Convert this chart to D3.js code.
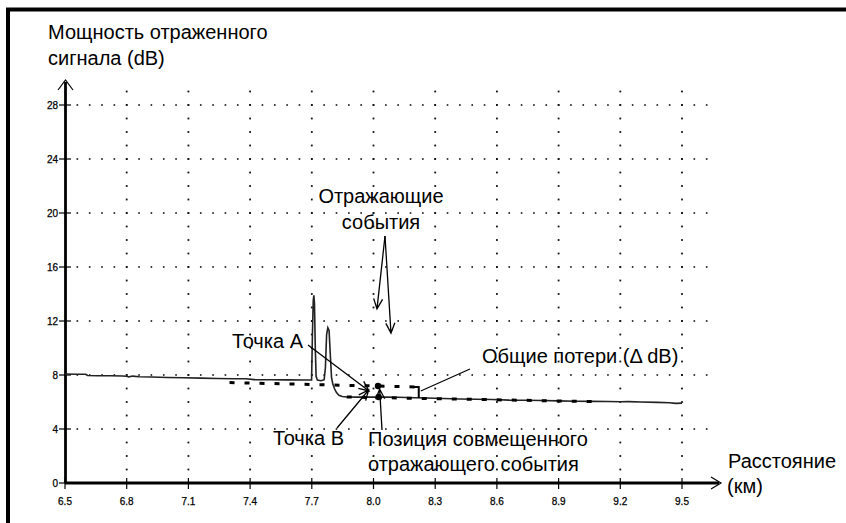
<!DOCTYPE html>
<html>
<head>
<meta charset="utf-8">
<script src="https://cdn.jsdelivr.net/npm/d3@7"></script>
<style>
  html, body { margin: 0; padding: 0; background: #fff; }
  svg { display: block; }
  text { font-family: "Liberation Sans", Arial, sans-serif; fill: #000; }
  .tick-label { stroke: #000; stroke-width: 0.25px; }
</style>
</head>
<body>
<svg id="chart" width="846" height="523"></svg>
<script>
// OTDR trace: distance (km) and reflected power (dB)
const traceKm = [6.50, 6.56, 6.60, 6.61, 6.66, 6.72, 6.78, 6.80, 6.81, 6.83, 6.86, 6.92, 7.00, 7.08, 7.16, 7.24, 7.32, 7.38,
  7.42, 7.50, 7.58, 7.66, 7.699, 7.703, 7.707, 7.710, 7.713, 7.717, 7.721, 7.727, 7.745, 7.760, 7.766, 7.772, 7.778, 7.784,
  7.790, 7.796, 7.802, 7.810, 7.820, 7.832, 7.848, 7.870, 7.92, 7.98, 8.05, 8.12, 8.20, 8.26, 8.34, 8.42, 8.50, 8.58, 8.66,
  8.74, 8.82, 8.90, 8.98, 9.06, 9.14, 9.20, 9.24, 9.30, 9.38, 9.44, 9.47, 9.50];
const traceDb = [8.07, 8.06, 8.05, 7.96, 7.95, 7.94, 7.93, 7.91, 7.86, 7.92, 7.87, 7.85, 7.82, 7.80, 7.77, 7.74, 7.72, 7.72,
  7.66, 7.65, 7.64, 7.63, 7.63, 11.0, 13.5, 13.9, 13.3, 10.0, 7.9, 7.62, 7.58, 7.65, 8.5, 11.0, 11.5, 11.3,
  9.5, 7.8, 7.35, 7.0, 6.7, 6.5, 6.41, 6.37, 6.36, 6.36, 6.37, 6.35, 6.31, 6.30, 6.26, 6.22, 6.20, 6.18, 6.14,
  6.13, 6.11, 6.08, 6.06, 6.05, 6.04, 6.02, 6.03, 6.00, 5.97, 5.95, 5.90, 5.92];

// Least-squares fit lines (km, dB)
const fitBeforeKm = [7.30, 8.22];
const fitBeforeDb = [7.44, 7.11];
const fitAfterKm = [7.87, 9.10];
const fitAfterDb = [6.37, 6.02];

// Event markers: point A on the forward fit, point B on the backward fit
const markerNames = ["A", "B"];
const markerKm = [8.022, 8.025];
const markerDb = [7.19, 6.37];

// Reflective event arrow targets (km, dB)
const eventKm = [8.017, 8.085];
const eventDb = [12.9, 11.1];

// Total loss bracket
const lossKm = 8.22;
const lossDb = [7.11, 6.30];

// Axis ticks
const xTicks = [6.5, 6.8, 7.1, 7.4, 7.7, 8.0, 8.3, 8.6, 8.9, 9.2, 9.5];
const xTickLabels = ["6.5", "6.8", "7.1", "7.4", "7.7", "8.0", "8.3", "8.6", "8.9", "9.2", "9.5"];
const yTicks = [0, 4, 8, 12, 16, 20, 24, 28];
const yTickLabels = ["0", "4", "8", "12", "16", "20", "24", "28"];

const svg = d3.select("#chart");
const x = d3.scaleLinear().domain([6.5, 9.5]).range([65, 682]);
const y = d3.scaleLinear().domain([0, 28]).range([483, 105]);

// frame
svg.append("path").attr("d", "M8,523 V9.5 H846").attr("fill", "none").attr("stroke", "#000").attr("stroke-width", 4);

// dotted grid
const grid = svg.append("g").attr("fill", "#111");
xTicks.slice(1).forEach(k => {
  d3.range(1, 30).forEach(v => {
    grid.append("rect").attr("x", x(k) - 0.9).attr("y", y(v) - 0.9).attr("width", 1.8).attr("height", 1.8);
  });
});
yTicks.slice(1).forEach(v => {
  d3.range(1, 53).forEach(i => {
    const k = 6.5 + i * 0.06;
    grid.append("rect").attr("x", x(k) - 0.8).attr("y", y(v) - 0.8).attr("width", 1.6).attr("height", 1.6);
  });
});

// axes
const axes = svg.append("g").attr("stroke", "#000").attr("fill", "none");
axes.append("line").attr("x1", x(6.5)).attr("x2", 719).attr("y1", y(0)).attr("y2", y(0)).attr("stroke-width", 3.2);
axes.append("path").attr("d", `M711,${y(0) - 6} L721,${y(0)} L711,${y(0) + 6}`).attr("stroke-width", 1.2);
axes.append("line").attr("x1", x(6.5) + 0.5).attr("x2", x(6.5) + 0.5).attr("y1", y(0)).attr("y2", 82).attr("stroke-width", 2.8);
axes.append("path").attr("d", `M${x(6.5) - 7},90 L${x(6.5) + 0.5},80 L${x(6.5) + 8},90`).attr("stroke-width", 1.2);

const tickG = svg.append("g");
xTicks.forEach((k, i) => {
  tickG.append("line").attr("x1", x(k)).attr("x2", x(k)).attr("y1", y(0) - 5).attr("y2", y(0) + 6)
    .attr("stroke", "#000").attr("stroke-width", 1.2);
  tickG.append("text").attr("class", "tick-label").attr("x", x(k)).attr("y", y(0) + 22).attr("text-anchor", "middle")
    .attr("font-size", 10).text(xTickLabels[i]);
});
yTicks.forEach((v, i) => {
  tickG.append("line").attr("x1", x(6.5) - 6).attr("x2", x(6.5) + 6).attr("y1", y(v)).attr("y2", y(v))
    .attr("stroke", "#000").attr("stroke-width", 1.2);
  tickG.append("text").attr("class", "tick-label").attr("x", x(6.5) - 7).attr("y", y(v) + 3.5).attr("text-anchor", "end")
    .attr("font-size", 10).text(yTickLabels[i]);
});

// trace
const line = d3.line().x(d => x(d[0])).y(d => y(d[1]));
svg.append("path").datum(traceKm.map((k, i) => [k, traceDb[i]]))
  .attr("d", line).attr("fill", "none").attr("stroke", "#222").attr("stroke-width", 1.6);

// fit lines (dashed)
const dashStyle = sel => sel.attr("fill", "none").attr("stroke", "#000").attr("stroke-width", 3)
  .attr("stroke-dasharray", "5,10");
svg.append("path").datum(fitBeforeKm.map((k, i) => [k, fitBeforeDb[i]])).attr("d", line).call(dashStyle);
svg.append("path").datum(fitAfterKm.map((k, i) => [k, fitAfterDb[i]])).attr("d", line).call(dashStyle);

// total loss bracket
svg.append("path")
  .attr("d", `M${x(lossKm) - 5},${y(lossDb[0])} H${x(lossKm)} V${y(lossDb[1])}`)
  .attr("fill", "none").attr("stroke", "#000").attr("stroke-width", 2);

// markers
svg.selectAll("circle.marker").data(markerKm).enter().append("circle")
  .attr("class", "marker").attr("cx", d => x(d)).attr("cy", (d, i) => y(markerDb[i])).attr("r", 3.2).attr("fill", "#000");

// arrows with open heads
function arrow(x1, y1, x2, y2, len = 11, spread = 0.42) {
  const a = Math.atan2(y2 - y1, x2 - x1);
  const p = d3.path();
  p.moveTo(x1, y1); p.lineTo(x2, y2);
  p.moveTo(x2 - len * Math.cos(a - spread), y2 - len * Math.sin(a - spread));
  p.lineTo(x2, y2);
  p.lineTo(x2 - len * Math.cos(a + spread), y2 - len * Math.sin(a + spread));
  svg.append("path").attr("d", p.toString()).attr("fill", "none").attr("stroke", "#000").attr("stroke-width", 1.3);
}
arrow(385, 236, x(eventKm[0]), y(eventDb[0]));
arrow(385, 236, x(eventKm[1]), y(eventDb[1]));
arrow(308, 345, x(markerKm[0]) - 9, y(markerDb[0]) + 5);
arrow(337, 428, x(markerKm[1]) - 10, y(markerDb[1]) - 7);
arrow(382, 430, x(markerKm[1]) + 1, y(markerDb[1]) - 8);
svg.append("line").attr("x1", x(lossKm) + 2).attr("y1", 391).attr("x2", 470).attr("y2", 369)
  .attr("stroke", "#000").attr("stroke-width", 1.2);

// labels
const labels = [
  { t: "Мощность отраженного", x: 48, y: 39, a: "start" },
  { t: "сигнала (dB)", x: 48, y: 65, a: "start" },
  { t: "Отражающие", x: 381, y: 203, a: "middle" },
  { t: "события", x: 381, y: 229, a: "middle" },
  { t: "Точка A", x: 232, y: 348, a: "start" },
  { t: "Общие потери (Δ dB)", x: 482, y: 363, a: "start" },
  { t: "Точка B", x: 273, y: 445, a: "start" },
  { t: "Позиция совмещенного", x: 368, y: 446, a: "start" },
  { t: "отражающего события", x: 368, y: 471, a: "start" },
  { t: "Расстояние", x: 728, y: 468, a: "start" },
  { t: "(км)", x: 727, y: 493, a: "start" }
];
svg.append("g").selectAll("text").data(labels).enter().append("text")
  .attr("x", d => d.x).attr("y", d => d.y).attr("text-anchor", d => d.a)
  .attr("font-size", 20).text(d => d.t);
</script>
</body>
</html>
